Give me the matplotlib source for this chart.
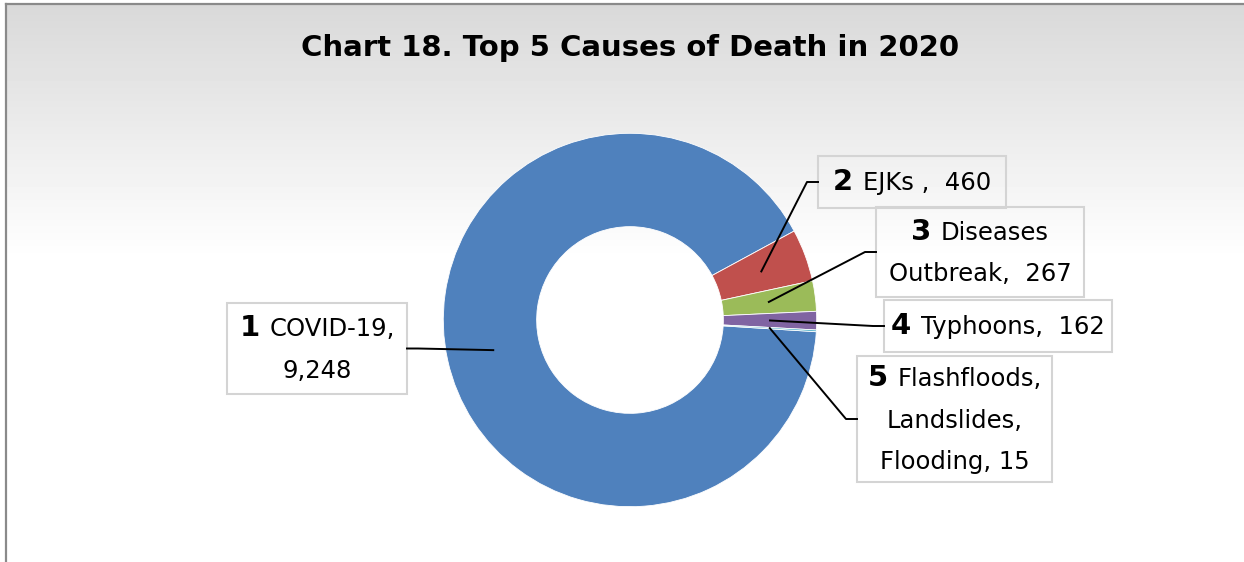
import numpy as np
import matplotlib.pyplot as plt
from matplotlib.offsetbox import TextArea, HPacker, VPacker, AnnotationBbox
from matplotlib.patches import Rectangle

# top causes of death, 2020
ranks = ["1", "2", "3", "4", "5"]
causes = ["COVID-19", "EJKs ", "Diseases\nOutbreak", "Typhoons",
          "Flashfloods,\nLandslides,\nFlooding"]
deaths = [9248, 460, 267, 162, 15]
separators = [",\n", ",  ", ",  ", ",  ", ", "]
colors = ["#4F81BD", "#C0504D", "#9BBB59", "#8064A2", "#4BACC6"]

W, H = 1244, 562
CX, CY, R = 630, 320, 186.7          # donut centre / radius in pixels
# label boxes: left, top, right, bottom (pixels from top-left)
boxes = [(227, 303, 407, 394), (818, 156, 1006, 208), (876, 207, 1084, 297),
         (884, 300, 1112, 352), (857, 356, 1052, 482)]


def Y(y):
    return H - y


fig = plt.figure(figsize=(W / 100, H / 100), dpi=100)
ax = fig.add_axes([0, 0, 1, 1])

# grey-to-white backdrop inside the chart frame
shade = np.ones(H - 5)
shade[:255] = np.linspace(0.85, 1.0, 255)
ax.imshow(shade[:, None], cmap="gray", vmin=0, vmax=1, aspect="auto",
          extent=(7, W, 0, Y(5)), zorder=0)
ax.plot([6, W], [Y(4), Y(4)], color="#8a8a8a", lw=1.6, zorder=1)
ax.plot([6, 6], [Y(4), 0], color="#8a8a8a", lw=1.6, zorder=1)

wedges, _ = ax.pie(deaths, colors=colors, startangle=-3.6, counterclock=False,
                   center=(CX, Y(CY)), radius=R,
                   wedgeprops=dict(width=R / 2, edgecolor="white", linewidth=0.6))

ax.set_xlim(0, W)
ax.set_ylim(0, H)
ax.set_aspect("auto")
ax.axis("off")

ax.text(CX, Y(48), "Chart 18. Top 5 Causes of Death in 2020", ha="center",
        va="center", fontsize=21, fontweight="bold")

for w, rank, cause, sep, n, (l, t, r, b) in zip(wedges, ranks, causes, separators,
                                                 deaths, boxes):
    lines = (cause + sep + f"{n:,}").split("\n")
    rows = []
    for i, line in enumerate(lines):
        parts = [TextArea(line.strip(" ") if i else line.lstrip(" "),
                          textprops=dict(fontsize=17.5))]
        if i == 0:
            parts.insert(0, TextArea(rank, textprops=dict(fontsize=21, fontweight="bold")))
        rows.append(HPacker(children=parts, align="baseline", pad=0, sep=7))
    pack = VPacker(children=rows, align="center", pad=0, sep=12)
    bx, by = (l + r) / 2, Y((t + b) / 2)
    ax.add_artist(AnnotationBbox(pack, (bx, by), frameon=False,
                                 box_alignment=(0.5, 0.5), zorder=5))
    ax.add_patch(Rectangle((l, Y(b)), r - l, b - t, fill=False,
                           edgecolor="#d4d4d4", lw=1.5, zorder=4))

    # leader line from mid-ring of the slice to the box side
    mid = np.radians((w.theta1 + w.theta2) / 2)
    px = CX + 0.75 * R * np.cos(mid)
    py = Y(CY) + 0.75 * R * np.sin(mid)
    edge = l if px < l else r
    elbow = edge - 11 if px < l else edge + 11
    ax.plot([px, elbow, edge], [py, by, by], color="black", lw=1.4, zorder=6)

fig.savefig("out.png", dpi=100)
